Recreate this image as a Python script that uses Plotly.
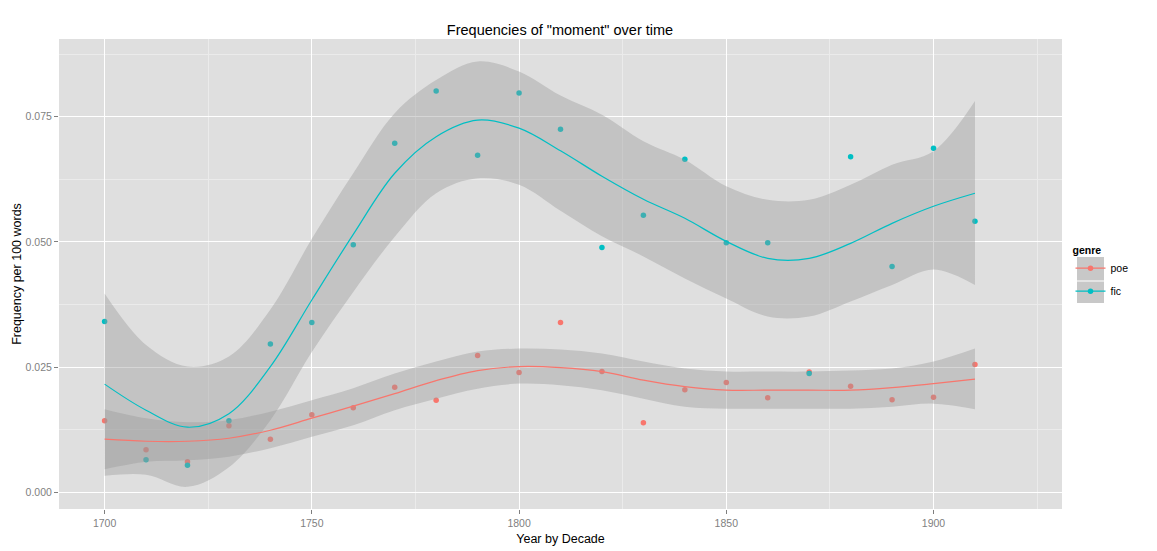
import plotly.graph_objects as go

# decades on the x axis
years = [1700, 1710, 1720, 1730, 1740, 1750, 1760, 1770, 1780, 1790, 1800,
         1810, 1820, 1830, 1840, 1850, 1860, 1870, 1880, 1890, 1900, 1910]

# observed frequencies per 100 words
poe_freq = [0.0143, 0.0085, 0.0061, 0.0133, 0.0106, 0.0155, 0.0169, 0.0210,
            0.0184, 0.0273, 0.0239, 0.0339, 0.0241, 0.0139, 0.0205, 0.0219,
            0.0189, 0.0240, 0.0212, 0.0185, 0.0190, 0.0255]
fic_freq = [0.0341, 0.0065, 0.0054, 0.0143, 0.0296, 0.0339, 0.0494, 0.0697,
            0.0801, 0.0673, 0.0797, 0.0725, 0.0489, 0.0553, 0.0665, 0.0498,
            0.0498, 0.0237, 0.0670, 0.0451, 0.0687, 0.0541]

# smoothed fit and confidence band
poe_fit = [0.0106, 0.0102, 0.0102, 0.0108, 0.0124, 0.0148, 0.0172, 0.0197,
           0.0223, 0.0243, 0.0251, 0.0249, 0.0241, 0.0224, 0.0211, 0.0204,
           0.0204, 0.0204, 0.0204, 0.0209, 0.0217, 0.0226]
poe_hi = [0.0166, 0.0148, 0.0140, 0.0144, 0.0161, 0.0184, 0.0208, 0.0237,
          0.0261, 0.0281, 0.0287, 0.0285, 0.0277, 0.0261, 0.0247, 0.0241,
          0.0241, 0.0241, 0.0243, 0.0247, 0.0261, 0.0287]
poe_lo = [0.0046, 0.0061, 0.0064, 0.0071, 0.0088, 0.0111, 0.0134, 0.0164,
          0.0187, 0.0207, 0.0217, 0.0214, 0.0204, 0.0187, 0.0171, 0.0167,
          0.0167, 0.0167, 0.0167, 0.0171, 0.0177, 0.0166]

fic_fit = [0.0216, 0.0164, 0.0130, 0.0157, 0.0251, 0.0384, 0.0515, 0.0637,
           0.0710, 0.0743, 0.0727, 0.0682, 0.0631, 0.0585, 0.0547, 0.0501,
           0.0467, 0.0467, 0.0497, 0.0537, 0.0571, 0.0597]
fic_hi = [0.0397, 0.0294, 0.0251, 0.0271, 0.0365, 0.0506, 0.0637, 0.0757,
          0.0823, 0.0860, 0.0840, 0.0792, 0.0754, 0.0701, 0.0664, 0.0611,
          0.0584, 0.0584, 0.0614, 0.0654, 0.0681, 0.0781]
fic_lo = [0.0033, 0.0035, 0.0011, 0.0050, 0.0144, 0.0280, 0.0400, 0.0510,
          0.0597, 0.0627, 0.0614, 0.0562, 0.0511, 0.0471, 0.0427, 0.0387,
          0.0351, 0.0351, 0.0381, 0.0414, 0.0445, 0.0414]

y_ticks = [0.0, 0.025, 0.05, 0.075]
y_labels = ['0.000', '0.025', '0.050', '0.075']
x_ticks = [1700, 1750, 1800, 1850, 1900]

POE = '#F8766D'
FIC = '#00BFC4'
BAND = 'rgba(153,153,153,0.4)'
FONT = 'Liberation Sans, Arial, sans-serif'

# the page body adds 8px on the left/top, so the figure is shifted back by that
W, H = 1149, 543
L, T = 51, 31
PW, PH = 1003, 470


def px_x(xs):
    # reference screen x -> paper x
    return (xs - 59) / PW


def px_y(ys):
    # reference screen y -> paper y
    return (509 - ys) / PH


fig = go.Figure()

# points first so the bands sit on top of them (as ggplot does)
for name, freq, col in [('poe', poe_freq, POE), ('fic', fic_freq, FIC)]:
    fig.add_trace(go.Scatter(x=years, y=freq, mode='markers', name=name,
                             marker=dict(color=col, size=5.5),
                             showlegend=False))

for hi, lo in [(poe_hi, poe_lo), (fic_hi, fic_lo)]:
    fig.add_trace(go.Scatter(x=years, y=lo, mode='lines',
                             line=dict(width=0, shape='spline', smoothing=1),
                             showlegend=False, hoverinfo='skip'))
    fig.add_trace(go.Scatter(x=years, y=hi, mode='lines',
                             line=dict(width=0, shape='spline', smoothing=1),
                             fill='tonexty', fillcolor=BAND,
                             showlegend=False, hoverinfo='skip'))

for name, fit, col in [('poe', poe_fit, POE), ('fic', fic_fit, FIC)]:
    fig.add_trace(go.Scatter(x=years, y=fit, mode='lines', name=name,
                             line=dict(color=col, width=1.2, shape='spline', smoothing=1),
                             showlegend=False))

# legend entries: line with a dot, like the ggplot key
for name, col in [('poe', POE), ('fic', FIC)]:
    fig.add_trace(go.Scatter(x=[None], y=[None], mode='lines+markers', name=name,
                             legendgroup=name,
                             line=dict(color=col, width=1.2),
                             marker=dict(color=col, size=5.5)))

grid_minor = dict(showgrid=True, gridcolor='#EBEBEB', gridwidth=0.6)

fig.update_layout(
    width=W, height=H,
    margin=dict(l=L, r=W - L - PW, t=T, b=H - T - PH),
    paper_bgcolor='white',
    plot_bgcolor='#DFDFDF',
    font=dict(family=FONT, color='black'),
    title=dict(text='Frequencies of "moment" over time', x=552 / W, xanchor='center',
               y=1 - 22 / H, yanchor='middle', font=dict(size=14.5, color='black')),
    xaxis=dict(range=[1689, 1931], tickvals=x_ticks, ticks='outside', ticklen=4,
               tickcolor='#7F7F7F', tickfont=dict(size=10.5, color='#7F7F7F'),
               gridcolor='white', gridwidth=1.2, zeroline=False,
               minor=dict(dtick=50, tick0=1725, **grid_minor),
               title=dict(text='Year by Decade', font=dict(size=12.5), standoff=6),
               showline=False, automargin=False),
    yaxis=dict(range=[-0.00333, 0.0905], tickvals=y_ticks, ticktext=y_labels,
               ticks='outside', ticklen=4, tickcolor='#7F7F7F',
               tickfont=dict(size=10.5, color='#7F7F7F'),
               gridcolor='white', gridwidth=1.2, zeroline=False,
               minor=dict(dtick=0.025, tick0=0.0125, **grid_minor),
               title=dict(text='Frequency per 100 words', font=dict(size=12.5), standoff=1),
               showline=False, automargin=False),
    legend=dict(x=px_x(1070.5), y=px_y(240), xanchor='left', yanchor='top',
                bgcolor='rgba(0,0,0,0)', font=dict(size=10.5),
                title=dict(text='<b>genre</b>', font=dict(size=10.5)),
                itemwidth=30, tracegroupgap=4),
    hovermode='closest',
)

# grey key background behind the legend symbols
for y0, y1 in [(257, 280.5), (281.5, 303)]:
    fig.add_shape(type='rect', xref='paper', yref='paper',
                  x0=px_x(1077), x1=px_x(1104), y0=px_y(y1), y1=px_y(y0),
                  fillcolor='#C8C8C8', line=dict(width=0), layer='below')

fig.write_html("out.html")
